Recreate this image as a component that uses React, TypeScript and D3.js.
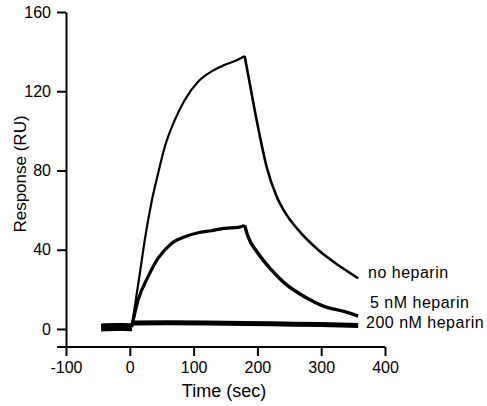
import React, { useEffect, useRef } from 'react';
import * as d3 from 'd3';

// sensorgram readings, [time (sec), response (RU)]
const baseline = [[-45, 0.8], [-20, 1], [0, 0.9], [3, 1]];
const noHeparinOn = [[3, 1], [15.7, 28], [23.5, 45], [34, 64], [44.4, 78.6], [54.9, 92], [70.5, 105.5], [86.2, 115.6], [107, 124.8], [128, 130], [148, 133.2], [170, 136], [180, 137.8]];
const noHeparinOff = [[180, 137.8], [188, 124], [196, 110], [204, 97], [214.3, 82], [230, 67], [243, 59], [264, 50], [295, 40], [326.5, 32.3], [358, 25.6]];
const fiveNMOn = [[3, 1], [13, 14.6], [28.7, 26.4], [44.4, 35.7], [65.4, 43.2], [86.2, 46.6], [107, 48.6], [128, 49.6], [148, 50.8], [170, 51.3], [180, 52.3]];
const fiveNMOff = [[180, 52.3], [185.4, 46.6], [201, 38.2], [222, 29.8], [243, 23], [274, 16.3], [305.6, 11.3], [337, 8.7], [358, 6.5]];
const twoHundredNM = [[3, 3], [60, 3.1], [120, 3], [180, 2.8], [240, 2.5], [300, 2.2], [358, 1.8]];

const xTicks = [-100, 0, 100, 200, 300, 400];
const yTicks = [0, 40, 80, 120, 160];
const labels = ['no heparin', '5 nM heparin', '200 nM heparin'];

const FONT = '"Liberation Sans", Arial, sans-serif';

export default function App() {
  const ref = useRef(null);

  useEffect(() => {
    const svg = d3.select(ref.current);
    svg.selectAll('*').remove();

    const x = d3.scaleLinear().domain([-100, 400]).range([66, 385]);
    const y = d3.scaleLinear().domain([-9.1, 160]).range([347, 12]);

    const line = d3.line()
      .x(d => x(d[0]))
      .y(d => y(d[1]))
      .curve(d3.curveMonotoneX);

    // y axis
    const gy = svg.append('g')
      .attr('transform', 'translate(66,0)')
      .call(d3.axisLeft(y).tickValues(yTicks).tickFormat(d => String(d)).tickSize(9).tickSizeOuter(0).tickPadding(6));
    gy.select('.domain').attr('stroke-width', 2);
    gy.selectAll('.tick line').attr('stroke-width', 2);
    gy.selectAll('text').attr('font-size', 16).attr('font-family', FONT).attr('fill', '#000');

    // x axis
    const gx = svg.append('g')
      .attr('transform', 'translate(0,347)')
      .call(d3.axisBottom(x).tickValues(xTicks).tickFormat(d => String(d)).tickSize(9).tickSizeOuter(0).tickPadding(6));
    gx.select('.domain').remove();
    gx.selectAll('.tick line').attr('stroke-width', 2);
    gx.selectAll('text').attr('font-size', 16).attr('font-family', FONT).attr('fill', '#000');
    svg.append('line')
      .attr('x1', 57).attr('x2', x(400))
      .attr('y1', 347).attr('y2', 347)
      .attr('stroke', '#000').attr('stroke-width', 2);

    // curves
    const series = [
      { d: baseline, w: 8 },
      { d: twoHundredNM, w: 5 },
      { d: noHeparinOn, w: 2.2 },
      { d: noHeparinOff, w: 2.6 },
      { d: fiveNMOn, w: 3.2 },
      { d: fiveNMOff, w: 3.4 },
    ];
    series.forEach(s => {
      svg.append('path')
        .datum(s.d)
        .attr('d', line)
        .attr('fill', 'none')
        .attr('stroke', '#000')
        .attr('stroke-width', s.w)
        .attr('stroke-linejoin', 'round');
    });

    // curve labels
    const labelPos = [[368, 278], [370, 308], [366, 328]];
    labels.forEach((t, i) => {
      svg.append('text')
        .attr('x', labelPos[i][0])
        .attr('y', labelPos[i][1])
        .attr('font-size', 16)
        .attr('letter-spacing', 0.5)
        .attr('font-family', FONT)
        .text(t);
    });

    // axis titles
    svg.append('text')
      .attr('x', 224).attr('y', 397)
      .attr('text-anchor', 'middle')
      .attr('font-size', 18)
      .attr('font-family', FONT)
      .text('Time (sec)');
    svg.append('text')
      .attr('transform', 'translate(26,174) rotate(-90)')
      .attr('text-anchor', 'middle')
      .attr('font-size', 17)
      .attr('font-family', FONT)
      .text('Response (RU)');
  }, []);

  return (
    <svg ref={ref} width={487} height={406}
      style={{ position: 'absolute', left: 0, top: 0, background: '#fff' }} />
  );
}
